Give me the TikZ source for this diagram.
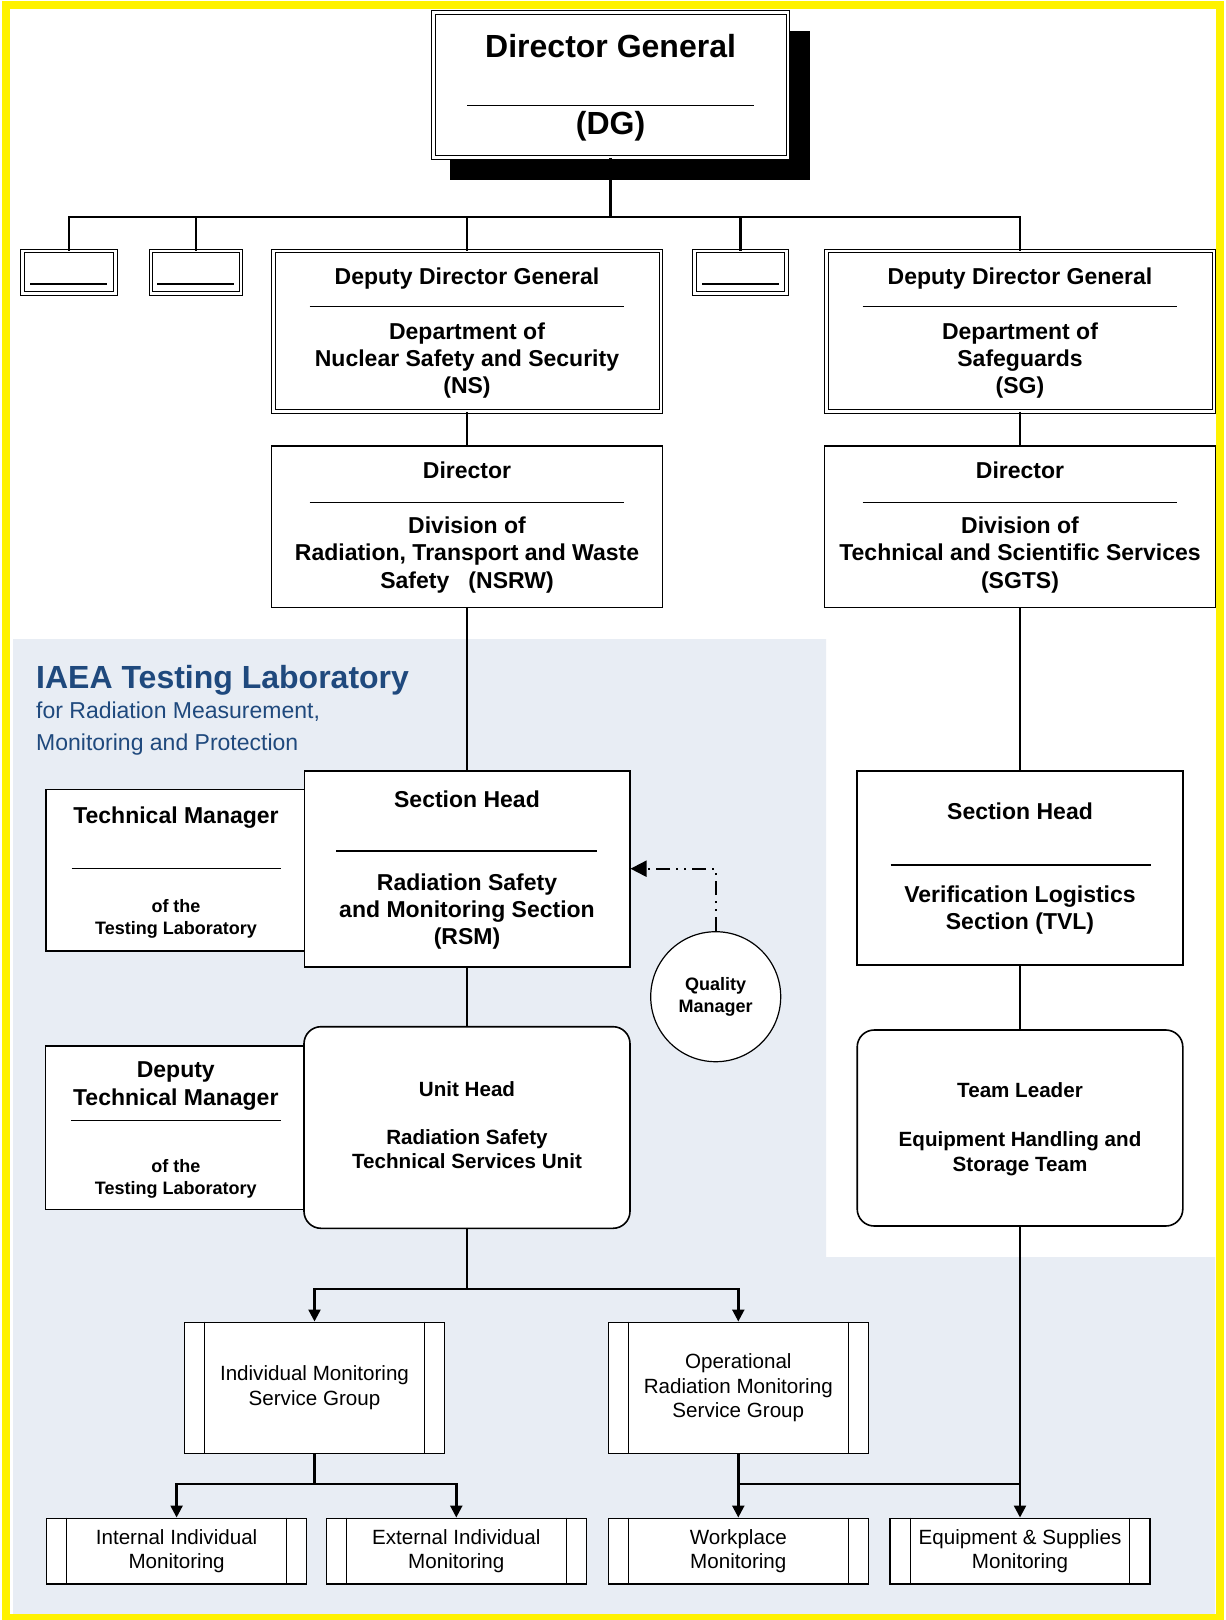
\documentclass[tikz,border=0pt]{standalone}
\usepackage{fontspec}
\setmainfont{Liberation Sans}
\usetikzlibrary{arrows.meta, calc}

\definecolor{labgray}{RGB}{232,237,244}
\definecolor{labblue}{RGB}{31,73,125}

\newcommand{\orgdg}{\fontsize{16}{19}\selectfont\bfseries}
\newcommand{\orghead}{\fontsize{11.5}{13.6}\selectfont\bfseries}
\newcommand{\orgnote}{\fontsize{9}{11}\selectfont\bfseries}
\newcommand{\orgunit}{\fontsize{10.3}{12.3}\selectfont\bfseries}
\newcommand{\orggroup}{\fontsize{10.3}{12.4}\selectfont}
\newcommand{\orgtitle}{\fontsize{16}{19}\selectfont\bfseries}
\newcommand{\orgsub}{\fontsize{11.5}{16}\selectfont}

\begin{document}
\begin{tikzpicture}[
            x=0.5pt, y=-0.5pt,
            semithick,
            dbox/.style={draw, double, double distance=1.3pt, line width=0.5pt, fill=white, inner sep=0pt},
            sbox/.style={draw, line width=0.8pt, fill=white, inner sep=0pt},
            rbox/.style={sbox, rounded corners=8.5pt},
            gbox/.style={sbox, minimum width=130pt, align=center, font=\orggroup},
            txt/.style={inner sep=0pt, align=center},
            headtxt/.style={txt, font=\orghead},
            notetxt/.style={txt, font=\orgnote},
            unittxt/.style={txt, font=\orgunit},
            seprule/.style={line width=0.6pt},
            sidebar/.style={line width=0.5pt},
            conn/.style={line width=1.2pt},
            arr/.style={conn, -{Triangle[length=6pt, width=6pt]}},
            qmlink/.style={line width=1pt, dash pattern=on 7pt off 3pt on 1pt off 3pt on 1pt off 3pt,
                -{Triangle[length=8pt, width=8pt]}}
        ]

        \useasboundingbox (0,0) rectangle (1225,1620);

        % page, lab area and frame
        \fill[white] (0,0) rectangle (1225,1620);
        \fill[labgray] (13,639) -- (826,639) -- (826,1257) -- (1215,1257)
            -- (1215,1615) -- (13,1615) -- cycle;
        \draw[yellow, line width=4pt] (6,5.5) rectangle (1220,1618);

        % director general
        \fill[black] (450,31) rectangle (810,180);
        \node[dbox, minimum width=177.3pt, minimum height=72.4pt] (dg) at (610.6,84.9) {};
        \node[txt, font=\orgdg] (dg-name) at (610.6,45.7) {Director General};
        \draw[seprule] (467,105.7) -- (754,105.7);
        \node[txt, font=\orgdg] (dg-abbr) at (610.6,126) {(DG)};

        % empty boxes
        \node[dbox, minimum width=46.4pt, minimum height=21.2pt] (vac1) at (69,272.4) {};
        \node[dbox, minimum width=45.1pt, minimum height=21.2pt] (vac2) at (195.9,272.4) {};
        \node[dbox, minimum width=46.1pt, minimum height=21.2pt] (vac3) at (740.4,272.4) {};
        \draw[seprule] (30.3,284) -- (107.2,284);
        \draw[seprule] (157.4,284) -- (234.3,284);
        \draw[seprule] (702.4,284) -- (779.3,284);

        % departments
        \node[dbox, minimum width=193.8pt, minimum height=80.2pt] (ns) at (467,331.3) {};
        \node[headtxt] (ns-head) at (467,279) {Deputy Director General};
        \draw[seprule] (309.7,306.7) -- (623.7,306.7);
        \node[headtxt] (ns-dept) at (467,360.7) {Department of\\Nuclear Safety and Security\\(NS)};

        \node[dbox, minimum width=193.8pt, minimum height=80.2pt] (sg) at (1020,331.3) {};
        \node[headtxt] (sg-head) at (1020,279) {Deputy Director General};
        \draw[seprule] (862.7,306.7) -- (1176.7,306.7);
        \node[headtxt] (sg-dept) at (1020,360.7) {Department of\\Safeguards\\(SG)};

        % divisions
        \node[sbox, minimum width=195.5pt, minimum height=80.7pt] (nsrw) at (467,526.7) {};
        \node[headtxt] (nsrw-head) at (467,470) {Director};
        \draw[seprule] (309.7,502.7) -- (623.7,502.7);
        \node[headtxt] (nsrw-div) at (467,555) {Division of\\Radiation, Transport and Waste\\Safety\ \ \ (NSRW)};

        \node[sbox, minimum width=195.5pt, minimum height=80.7pt] (sgts) at (1020,526.7) {};
        \node[headtxt] (sgts-head) at (1020,470) {Director};
        \draw[seprule] (862.7,502.7) -- (1176.7,502.7);
        \node[headtxt] (sgts-div) at (1020,555) {Division of\\Technical and Scientific Services\\(SGTS)};

        % laboratory title
        \node[anchor=west, inner sep=0pt, text=labblue, font=\orgtitle] (lab-title) at (35.6,680)
            {IAEA Testing Laboratory};
        \node[anchor=west, inner sep=0pt, text=labblue, font=\orgsub, align=left] (lab-sub) at (35.6,728.3)
            {for Radiation Measurement,\\Monitoring and Protection};

        % sections
        \node[sbox, minimum width=130pt, minimum height=80.9pt] (tm) at (176,870.2) {};
        \node[headtxt] (tm-head) at (176,818) {Technical Manager};
        \draw[seprule] (71.7,868.3) -- (280.9,868.3);
        \node[notetxt] (tm-lab) at (176,919) {of the\\Testing Laboratory};

        \node[sbox, minimum width=162.7pt, minimum height=98pt] (rsm) at (467,868.7) {};
        \node[headtxt] (rsm-head) at (467,799.3) {Section Head};
        \draw[seprule] (336.3,851) -- (597.3,851);
        \node[headtxt] (rsm-sect) at (467,911.5) {Radiation Safety\\and Monitoring Section\\(RSM)};

        \node[draw, circle, line width=0.6pt, fill=white, minimum size=65pt, inner sep=0pt,
            align=center, font=\orgnote] (qm) at (715.7,996.7) {Quality\\Manager};

        \node[sbox, minimum width=162.8pt, minimum height=97.2pt] (tvl) at (1020,867.9) {};
        \node[headtxt] (tvl-head) at (1020,811) {Section Head};
        \draw[seprule] (890.7,865) -- (1151,865);
        \node[headtxt] (tvl-sect) at (1020,910.3) {Verification Logistics\\Section (TVL)};

        % units and teams
        \node[sbox, minimum width=130.2pt, minimum height=81.7pt] (dtm) at (175.8,1127.7) {};
        \node[headtxt] (dtm-head) at (175.8,1086) {Deputy\\Technical Manager};
        \draw[seprule] (71.3,1120.7) -- (281,1120.7);
        \node[notetxt] (dtm-lab) at (175.8,1179.3) {of the\\Testing Laboratory};

        \node[rbox, minimum width=163pt, minimum height=100.8pt] (uh) at (467,1127.5) {};
        \node[unittxt] (uh-head) at (467,1089.3) {Unit Head};
        \node[unittxt] (uh-unit) at (467,1149) {Radiation Safety\\Technical Services Unit};

        \node[rbox, minimum width=162.8pt, minimum height=98pt] (tl) at (1020,1128) {};
        \node[unittxt] (tl-head) at (1020,1090) {Team Leader};
        \node[unittxt] (tl-team) at (1020,1153.5) {Equipment Handling and\\Storage Team};

        % service groups
        \node[gbox, minimum height=65.5pt] (imsg) at (314.5,1387.8) {Individual Monitoring\\Service Group};
        \node[gbox, minimum height=65.5pt] (ormsg) at (738.3,1387.8) {Operational\\Radiation Monitoring\\Service Group};

        \node[gbox, minimum height=32.9pt] (iim) at (176.6,1551.2) {Internal Individual\\Monitoring};
        \node[gbox, minimum height=32.9pt] (eim) at (456.3,1551.2) {External Individual\\Monitoring};
        \node[gbox, minimum height=32.9pt] (wpm) at (738.3,1551.2) {Workplace\\Monitoring};
        \node[gbox, minimum height=32.9pt] (esm) at (1020,1551.2) {Equipment \& Supplies\\Monitoring};

        \draw[sidebar] ([xshift=10.5pt]imsg.north west) -- ([xshift=10.5pt]imsg.south west);
        \draw[sidebar] ([xshift=-10.5pt]imsg.north east) -- ([xshift=-10.5pt]imsg.south east);
        \draw[sidebar] ([xshift=10.5pt]ormsg.north west) -- ([xshift=10.5pt]ormsg.south west);
        \draw[sidebar] ([xshift=-10.5pt]ormsg.north east) -- ([xshift=-10.5pt]ormsg.south east);
        \draw[sidebar] ([xshift=10.5pt]iim.north west) -- ([xshift=10.5pt]iim.south west);
        \draw[sidebar] ([xshift=-10.5pt]iim.north east) -- ([xshift=-10.5pt]iim.south east);
        \draw[sidebar] ([xshift=10.5pt]eim.north west) -- ([xshift=10.5pt]eim.south west);
        \draw[sidebar] ([xshift=-10.5pt]eim.north east) -- ([xshift=-10.5pt]eim.south east);
        \draw[sidebar] ([xshift=10.5pt]wpm.north west) -- ([xshift=10.5pt]wpm.south west);
        \draw[sidebar] ([xshift=-10.5pt]wpm.north east) -- ([xshift=-10.5pt]wpm.south east);
        \draw[sidebar] ([xshift=10.5pt]esm.north west) -- ([xshift=10.5pt]esm.south west);
        \draw[sidebar] ([xshift=-10.5pt]esm.north east) -- ([xshift=-10.5pt]esm.south east);

        % connectors
        \coordinate (dgbus) at (610.6,217.3);
        \draw[conn] (dg) -- (dgbus);
        \draw[conn] (dgbus) -| (vac1);
        \draw[conn] (dgbus) -| (vac2);
        \draw[conn] (dgbus) -| (ns);
        \draw[conn] (dgbus) -| (vac3);
        \draw[conn] (dgbus) -| (sg);

        \draw[conn] (ns) -- (nsrw);
        \draw[conn] (sg) -- (sgts);
        \draw[conn] (nsrw) -- (rsm);
        \draw[conn] (sgts) -- (tvl);
        \draw[conn] (rsm) -- (uh);
        \draw[conn] (tvl) -- (tl);
        \draw[qmlink] (qm) |- (rsm);

        \coordinate (uhbus) at (467,1289);
        \draw[conn] (uh) -- (uhbus);
        \draw[arr] (uhbus) -| (imsg);
        \draw[arr] (uhbus) -| (ormsg);

        \coordinate (imbus) at (314.5,1484);
        \draw[conn] (imsg) -- (imbus);
        \draw[arr] (imbus) -| (iim);
        \draw[arr] (imbus) -| (eim);

        \coordinate (orbus) at (738.3,1484);
        \draw[arr] (ormsg) -- (wpm);
        \draw[conn] (orbus) -- (orbus -| esm);
        \draw[arr] (tl) -- (esm);

    \end{tikzpicture}
\end{document}
